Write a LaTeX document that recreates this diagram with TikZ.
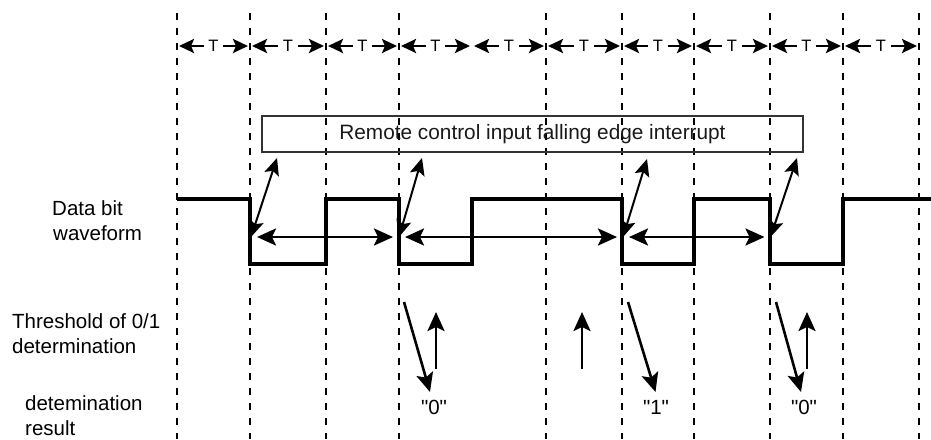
\documentclass[tikz,border=0pt]{standalone}
\usepackage{fontspec}
\setmainfont{Liberation Sans}
\newfontfamily\quotefont{Liberation Sans}[Ligatures=TeXOff]
\usetikzlibrary{arrows.meta}
\definecolor{boxgray}{HTML}{333333}
\begin{document}
\begin{tikzpicture}[x=1pt,y=-1pt,
  gridline/.style={line width=2.6pt, dash pattern=on 6.5pt off 8.5pt},
  period/.style={line width=2.6pt,
    {Stealth[length=15pt,width=14pt,inset=3pt]}-{Stealth[length=15pt,width=14pt,inset=3pt]},
    shorten <=2pt, shorten >=2pt},
  plabel/.style={fill=white, inner xsep=4.5pt, inner ysep=1pt, font=\fontsize{16.5}{18}\selectfont},
  wave/.style={line width=3.8pt},
  span/.style={line width=2.6pt,
    {Stealth[length=19pt,width=17pt,inset=4pt]}-{Stealth[length=19pt,width=17pt,inset=4pt]},
    shorten <=6pt, shorten >=6pt},
  irq/.style={line width=2pt,
    {Stealth[length=17pt,width=15pt,inset=3.5pt]}-{Stealth[length=17pt,width=15pt,inset=3.5pt]}},
  thr/.style={line width=2.6pt, -{Stealth[length=19pt,width=17pt,inset=4pt]}},
  lbl/.style={font=\fontsize{20.5}{24}\selectfont, inner sep=0pt, anchor=base west},
  res/.style={font=\quotefont\fontsize{20.5}{24}\selectfont, inner sep=0pt}
]
\useasboundingbox (0,0) rectangle (931,439);

% vertical dashed grid lines
\foreach \x [count=\i] in {177,250,326,399,546,622,694,770,843,919} {
  \coordinate (top\i) at (\x,13);
  \coordinate (bot\i) at (\x,439);
  \draw[gridline] (top\i) -- (bot\i);
}

% period markers
\foreach \x [count=\i from 0] in {177,250,326,399,472,546,622,694,770,843,919} {
  \coordinate (p\i) at (\x,46);
}
\foreach \a/\b in {0/1,1/2,2/3,3/4,4/5,5/6,6/7,7/8,8/9,9/10} {
  \draw[period] (p\a) -- node[plabel] (T\a) {T} (p\b);
}

% interrupt box
\node[draw=boxgray, line width=2.4pt, minimum width=541pt, minimum height=36pt,
      inner sep=0pt, text=black!90, font=\fontsize{20.8}{24}\selectfont]
      (irqbox) at (532.5,134) {Remote control input falling edge interrupt};

% waveform
\coordinate (w0) at (177,199);
\coordinate (w1) at (250,264);
\coordinate (w2) at (326,199);
\coordinate (w3) at (399,264);
\coordinate (w4) at (472,199);
\coordinate (w5) at (622,264);
\coordinate (w6) at (694,199);
\coordinate (w7) at (770,264);
\coordinate (w8) at (843,199);
\coordinate (w9) at (931,199);
\draw[wave] (w0) -| (w1) -| (w2) -| (w3) -| (w4) -| (w5) -| (w6) -| (w7) -| (w8) -- (w9);

% falling edge points
\coordinate (f1) at (251,237);
\coordinate (f2) at (399,237);
\coordinate (f3) at (623,237);
\coordinate (f4) at (770.5,237);
\draw[span] (f1) -- (f2);
\draw[span] (f2) -- (f3);
\draw[span] (f3) -- (f4);

% interrupt arrows
\coordinate (u1) at (277,158);
\coordinate (u2) at (422,158);
\coordinate (u3) at (647,159);
\coordinate (u4) at (797,158);
\draw[irq] (f1) -- (u1);
\draw[irq] (f2) -- (u2);
\draw[irq] (f3) -- (u3);
\draw[irq] (f4) -- (u4);

% threshold arrows
\coordinate (s1a) at (404,302); \coordinate (s1b) at (430,392);
\coordinate (s2a) at (628,302); \coordinate (s2b) at (655.5,392);
\coordinate (s3a) at (776,302); \coordinate (s3b) at (801,392);
\coordinate (h1a) at (436,369); \coordinate (h1b) at (436,312);
\coordinate (h2a) at (582,369); \coordinate (h2b) at (582,312);
\coordinate (h3a) at (807,369); \coordinate (h3b) at (807,312);
\draw[thr] (s1a) -- (s1b);
\draw[thr] (s2a) -- (s2b);
\draw[thr] (s3a) -- (s3b);
\draw[thr] (h1a) -- (h1b);
\draw[thr] (h2a) -- (h2b);
\draw[thr] (h3a) -- (h3b);

% results
\node[res] (r1) at (434,407) {"0"};
\node[res] (r2) at (656,407) {"1"};
\node[res] (r3) at (804,407) {"0"};

% left labels
\node[lbl] (l1) at (52,215) {Data bit};
\node[lbl] (l2) at (53,240) {waveform};
\node[lbl] (l3) at (12,328) {Threshold of 0/1};
\node[lbl] (l4) at (12,353) {determination};
\node[lbl] (l5) at (25,410) {detemination};
\node[lbl] (l6) at (25,435) {result};
\end{tikzpicture}
\end{document}
